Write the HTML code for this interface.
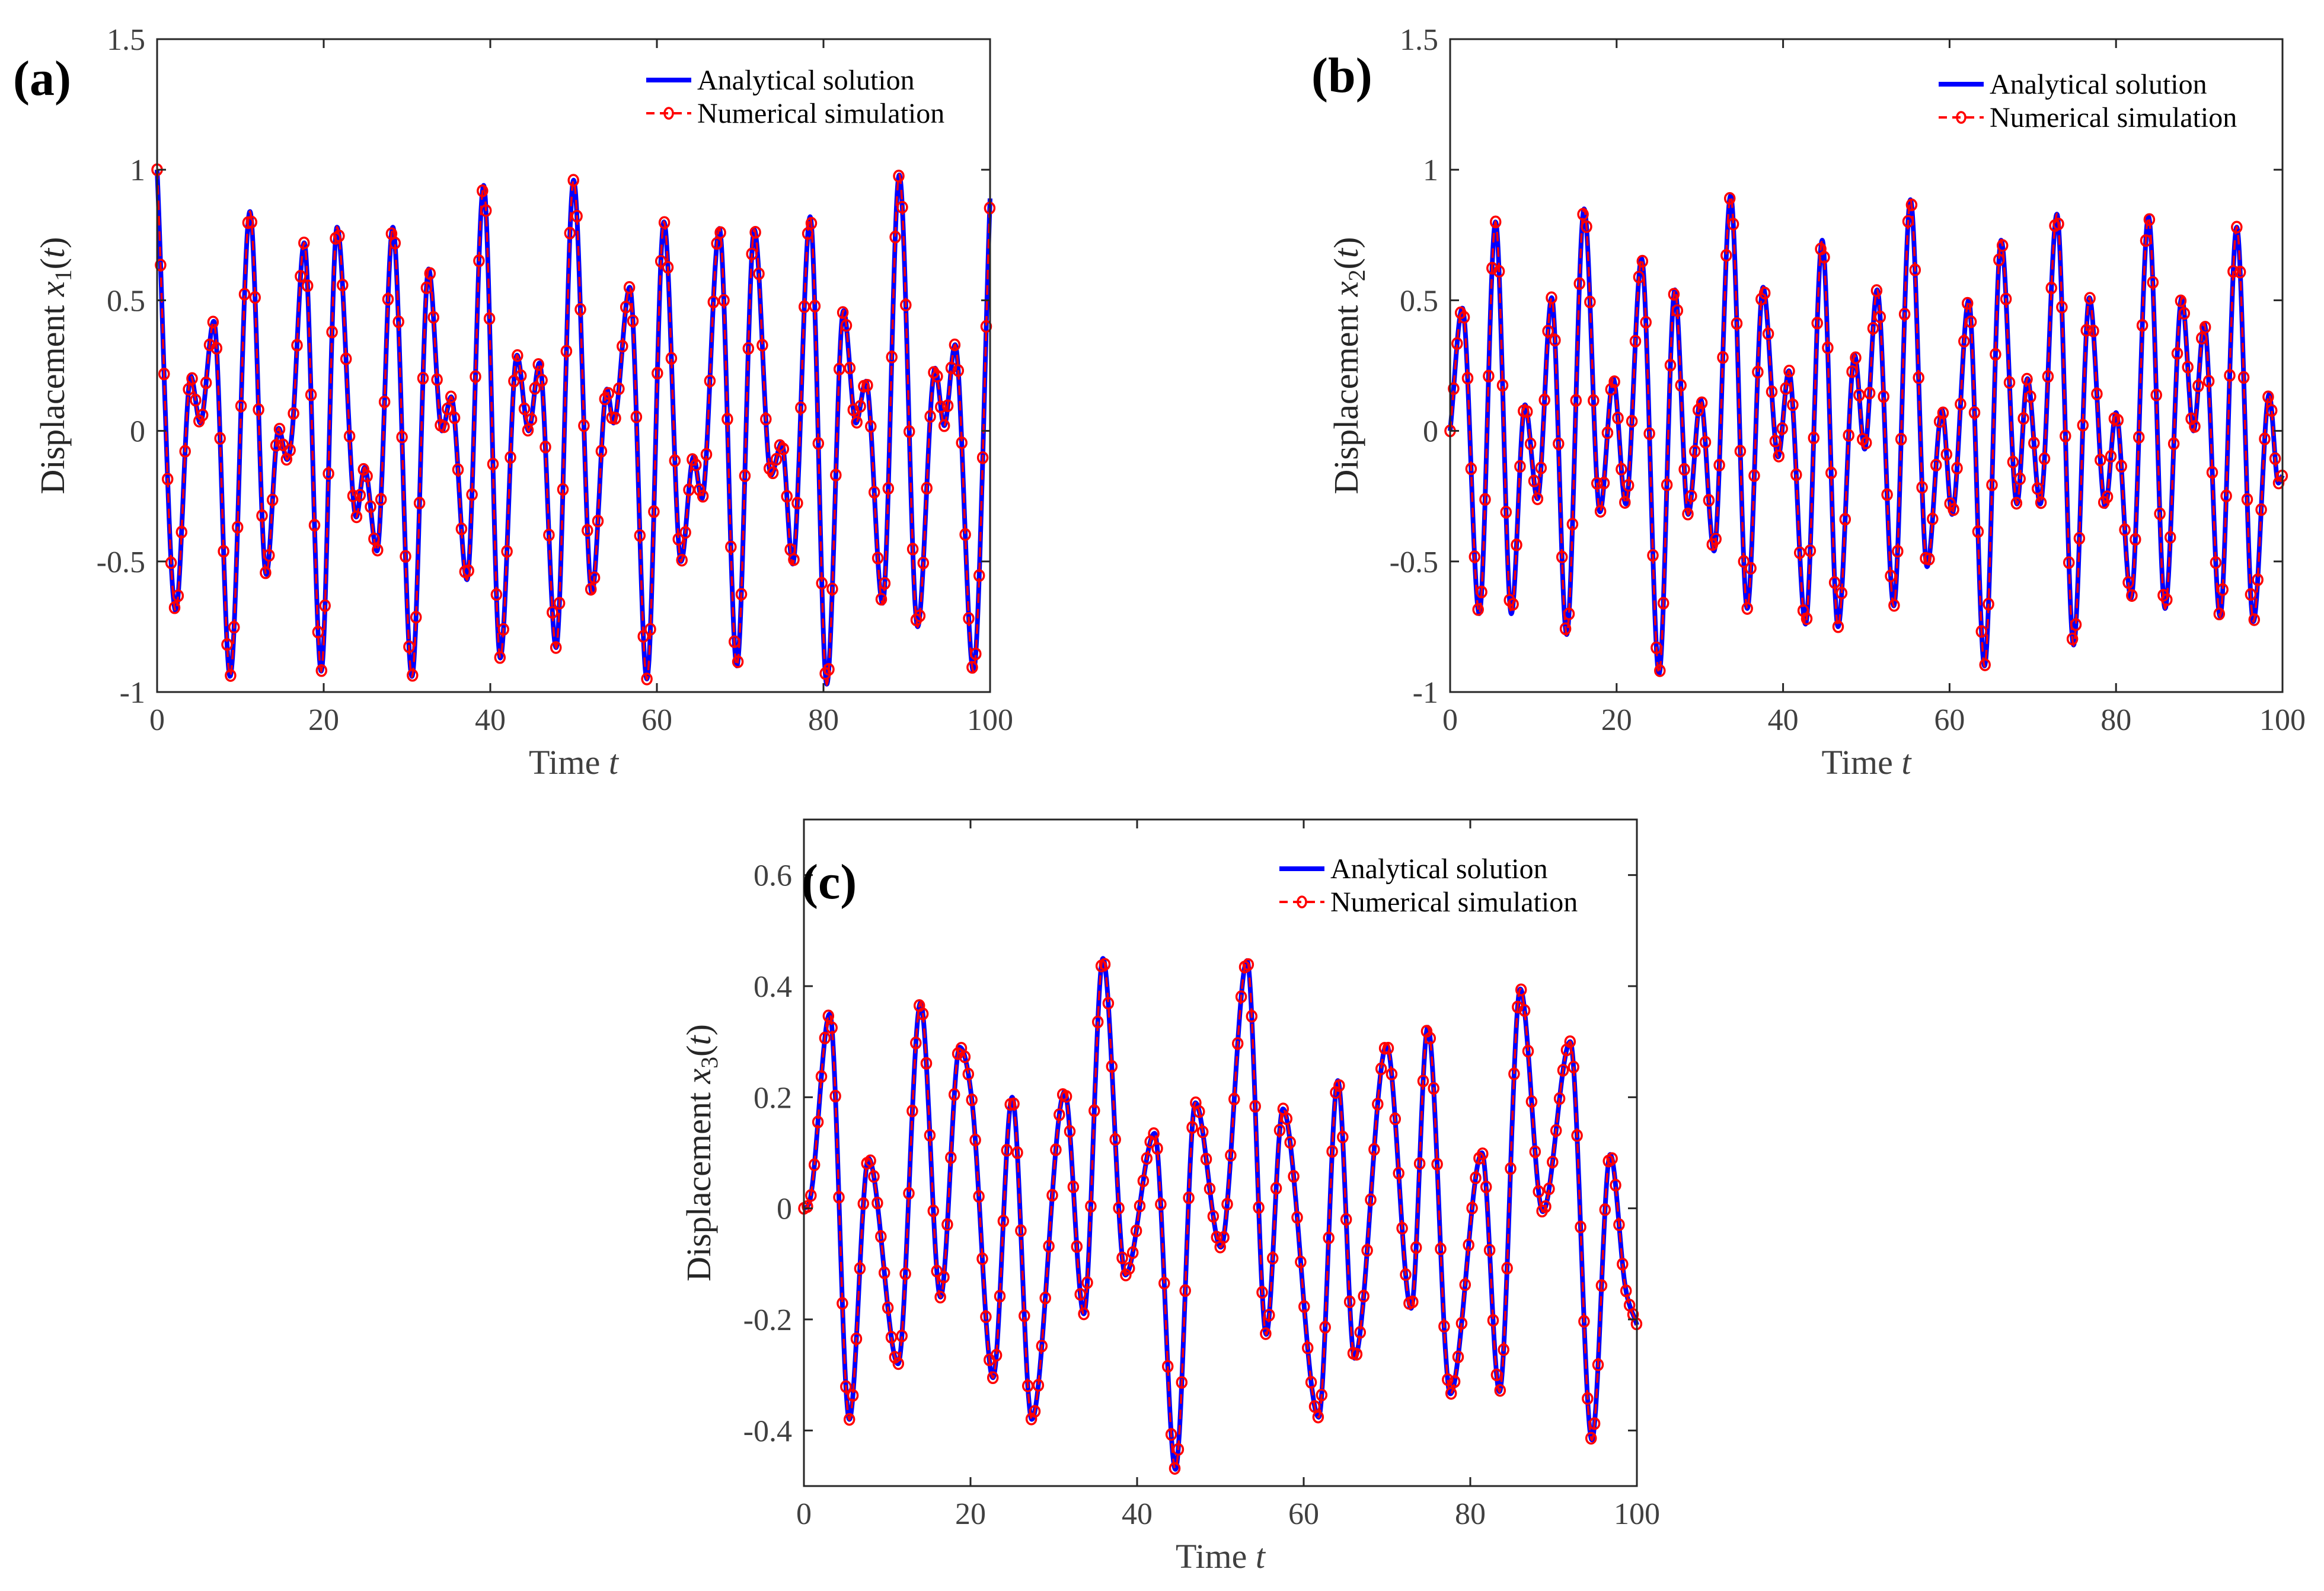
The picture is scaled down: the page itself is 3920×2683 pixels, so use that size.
<!DOCTYPE html>
<html><head><meta charset="utf-8"><title>Displacement charts</title>
<style>
html,body{margin:0;padding:0;background:#fff;}
svg{display:block;font-family:"Liberation Serif","Times New Roman",serif;}
</style></head>
<body>
<svg id="fig" width="3920" height="2683" viewBox="0 0 3920 2683" xmlns="http://www.w3.org/2000/svg"></svg>
<script>
// ---- Panel (a) data: x1(t) extrema ----
const tA = [0,2.24,4.04,5.18,6.81,8.76,11.14,13.1,14.6,15.6,16.2,17.66,19.7,21.6,23.9,24.9,26.4,28.3,30.6,32.6,34.2,35.3,37.2,39.2,41.2,43.2,44.6,45.9,47.9,50.0,52.2,54.0,54.8,56.75,58.8,60.85,62.9,64.4,65.4,67.5,69.6,71.7,73.7,75.0,76.3,78.4,80.4,82.4,83.9,85.1,87.1,89.1,91.3,93.4,94.5,95.8,98.0,100];
const vA = [1.0,-0.69,0.21,0.03,0.42,-0.94,0.84,-0.55,0.01,-0.11,-0.01,0.72,-0.92,0.78,-0.33,-0.14,-0.46,0.78,-0.94,0.62,0.0,0.13,-0.57,0.94,-0.87,0.29,0.0,0.26,-0.83,0.96,-0.62,0.16,0.03,0.55,-0.95,0.80,-0.50,-0.10,-0.26,0.775,-0.90,0.77,-0.17,-0.045,-0.51,0.82,-0.97,0.46,0.03,0.19,-0.66,0.98,-0.75,0.24,0.02,0.33,-0.92,0.89];
// ---- Panel (b) data: x2(t) extrema ----
const tB = [0,1.47,3.5,5.46,7.35,8.99,10.5,12.2,14.0,16.1,18.0,19.6,21.1,23.0,25.1,27.0,28.6,30.1,31.7,33.7,35.7,37.6,39.4,40.7,42.7,44.7,46.6,48.6,49.8,51.3,53.3,55.3,57.3,59.1,60.3,62.3,64.2,66.2,68.1,69.35,70.9,72.9,74.9,76.8,78.7,80.0,81.8,83.9,85.9,87.9,89.3,90.6,92.5,94.5,96.5,98.4,99.5,100];
const vB = [0,0.47,-0.70,0.80,-0.70,0.10,-0.26,0.51,-0.78,0.85,-0.31,0.20,-0.28,0.66,-0.93,0.54,-0.32,0.12,-0.46,0.90,-0.68,0.55,-0.10,0.23,-0.74,0.73,-0.75,0.29,-0.07,0.54,-0.67,0.885,-0.52,0.08,-0.32,0.50,-0.90,0.73,-0.28,0.20,-0.28,0.83,-0.82,0.51,-0.29,0.07,-0.64,0.82,-0.68,0.51,0.0,0.41,-0.71,0.78,-0.73,0.14,-0.20,-0.17];
// ---- Panel (c) data: x3(t) extrema ----
const tC = [0,0.65,3.1,5.45,7.75,11.3,14.0,16.4,18.7,20.2,22.7,25.0,27.35,31.3,33.6,35.9,38.6,42.1,44.6,47.0,50.05,53.2,55.5,57.5,61.8,64.1,66.1,69.95,72.9,74.9,77.6,81.4,83.5,86.0,88.7,92.0,94.6,96.8,98.6,100];
const vC = [0,0.01,0.35,-0.38,0.09,-0.28,0.37,-0.16,0.29,0.19,-0.305,0.20,-0.38,0.21,-0.19,0.45,-0.12,0.135,-0.47,0.19,-0.07,0.446,-0.227,0.179,-0.376,0.23,-0.27,0.294,-0.18,0.326,-0.334,0.10,-0.33,0.395,-0.006,0.30,-0.417,0.097,-0.14,-0.21];
// ---- tick labels ----
const xTicks = [0,20,40,60,80,100];
const yTicksAB = [1.5,1,0.5,0,-0.5,-1];
const yTicksC = [0.6,0.4,0.2,0,-0.2,-0.4];
const legendLabels = ["Analytical solution","Numerical simulation"];

const NS = "http://www.w3.org/2000/svg";
const fig = document.getElementById('fig');
function mk(tag, attrs, parent){const e=document.createElementNS(NS,tag);for(const k in attrs)e.setAttribute(k,attrs[k]);(parent||fig).appendChild(e);return e;}

// monotone cubic (Fritsch-Carlson)
function monotone(xs, ys){
  const n=xs.length, d=[], m=new Array(n);
  for(let i=0;i<n-1;i++) d.push((ys[i+1]-ys[i])/(xs[i+1]-xs[i]));
  m[0]=d[0]; m[n-1]=d[n-2];
  for(let i=1;i<n-1;i++){ if(d[i-1]*d[i]<=0) m[i]=0; else m[i]=(d[i-1]+d[i])/2; }
  for(let i=0;i<n-1;i++){
    if(d[i]===0){m[i]=0;m[i+1]=0;continue;}
    const a=m[i]/d[i], b=m[i+1]/d[i], s=a*a+b*b;
    if(s>9){const tau=3/Math.sqrt(s); m[i]=tau*a*d[i]; m[i+1]=tau*b*d[i];}
  }
  return function(x){
    let i=0; while(i<n-2 && x>xs[i+1]) i++;
    const h=xs[i+1]-xs[i], t=(x-xs[i])/h, t2=t*t, t3=t2*t;
    return (2*t3-3*t2+1)*ys[i]+(t3-2*t2+t)*h*m[i]+(-2*t3+3*t2)*ys[i+1]+(t3-t2)*h*m[i+1];
  };
}

function panel(cfg){
  const g=mk('g',{});
  
  
  const {x0,x1,y0,y1,ymin,ymax}=cfg;
  const sx=t=>x0+(t-0)/(100-0)*(x1-x0);
  const sy=v=>y1-(v-ymin)/(ymax-ymin)*(y1-y0);
  const f=monotone(cfg.t,cfg.v);
  let d='';
  for(let t=0;t<=100.0001;t+=0.05){d+=(d?'L':'M')+sx(t).toFixed(1)+','+sy(f(t)).toFixed(1);}
  const blue=mk('path',{d:d,fill:'none',stroke:'#0000ff','stroke-width':8,'stroke-linejoin':'round'},g);
  
  
  const red=mk('path',{d:d,fill:'none',stroke:'#ff0000','stroke-width':3.5,'stroke-dasharray':'16 10'},g);
  
  
  const mg=mk('g',{fill:'none',stroke:'#ff0000','stroke-width':3.5},g);
  
  
  for(let t=0;t<=100.0001;t+=0.42){
    const c=mk('ellipse',{cx:sx(t).toFixed(1),cy:sy(f(t)).toFixed(1),rx:8,ry:9},mg);
    
    
  }
  const ax=mk('g',{stroke:'#262626','stroke-width':3,fill:'none'},g);
  
  
  mk('rect',{x:x0,y:y0,width:x1-x0,height:y1-y0},ax);
  xTicks.forEach(t=>{
    mk('line',{x1:sx(t),y1:y1,x2:sx(t),y2:y1-15},ax);
    mk('line',{x1:sx(t),y1:y0,x2:sx(t),y2:y0+15},ax);
    const tx=mk('text',{x:sx(t),y:y1+64,'text-anchor':'middle','font-size':52,fill:'#404040',stroke:'none'},g);
    tx.textContent=t;
    
    
  });
  cfg.yt.forEach(v=>{
    mk('line',{x1:x0,y1:sy(v),x2:x0+15,y2:sy(v)},ax);
    mk('line',{x1:x1,y1:sy(v),x2:x1-15,y2:sy(v)},ax);
    const ty=mk('text',{x:x0-20,y:sy(v)+18,'text-anchor':'end','font-size':52,fill:'#404040'},g);
    ty.textContent=v;
    
    
  });
  const xl=mk('text',{x:(x0+x1)/2,y:y1+138,'text-anchor':'middle','font-size':58,fill:'#404040'},g);
  xl.innerHTML='Time <tspan font-style="italic">t</tspan>';
  
  
  const yl=mk('text',{transform:`translate(${cfg.ylx},${(y0+y1)/2}) rotate(-90)`,'text-anchor':'middle','font-size':58,fill:'#262626'},g);
  yl.innerHTML='Displacement <tspan font-style="italic">x</tspan><tspan font-size="40" dy="12">'+cfg.sub+'</tspan><tspan dy="-12">(</tspan><tspan font-style="italic">t</tspan>)';
  
  
  const pl=mk('text',{x:cfg.lx,y:cfg.ly,'font-size':84,'font-weight':'bold',fill:'#000'},g);
  pl.textContent=cfg.letter;
  
  
  const lg=mk('g',{},g);
  
  
  const L=cfg.leg;
  const e1=mk('line',{x1:L.x,y1:L.y,x2:L.x+76,y2:L.y,stroke:'#0000ff','stroke-width':8},lg);
  
  
  const t1=mk('text',{x:L.x+86,y:L.y+16,'font-size':48,fill:'#000'},lg);
  t1.textContent=legendLabels[0];
  
  
  const e2=mk('line',{x1:L.x,y1:L.y+56,x2:L.x+76,y2:L.y+56,stroke:'#ff0000','stroke-width':4,'stroke-dasharray':'14 9'},lg);
  
  
  mk('ellipse',{cx:L.x+38,cy:L.y+56,rx:7,ry:9,fill:'none',stroke:'#ff0000','stroke-width':3.5},lg);
  const t2=mk('text',{x:L.x+86,y:L.y+72,'font-size':48,fill:'#000'},lg);
  t2.textContent=legendLabels[1];
  
  
}

panel({name:'panel-a',t:tA,v:vA,x0:265,x1:1670,y0:66,y1:1167,ymin:-1,ymax:1.5,yt:yTicksAB,sub:'1',ylx:108,letter:'(a)',lx:22,ly:160,leg:{x:1090,y:135}});
panel({name:'panel-b',t:tB,v:vB,x0:2446,x1:3850,y0:66,y1:1167,ymin:-1,ymax:1.5,yt:yTicksAB,sub:'2',ylx:2290,letter:'(b)',lx:2212,ly:155,leg:{x:3270,y:142}});
panel({name:'panel-c',t:tC,v:vC,x0:1356,x1:2761,y0:1382,y1:2506,ymin:-0.5,ymax:0.7,yt:yTicksC,sub:'3',ylx:1198,letter:'(c)',lx:1352,ly:1515,leg:{x:2158,y:1465}});
</script>
</body></html>
